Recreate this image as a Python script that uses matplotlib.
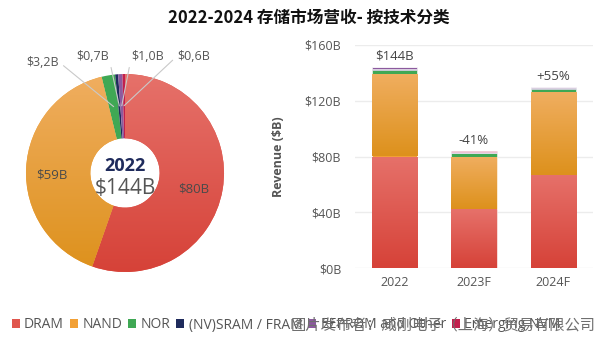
import numpy as np
import matplotlib.pyplot as plt
from matplotlib.patches import Patch
from matplotlib.colors import to_rgb

plt.rcParams['font.family'] = ['Open Sans', 'Noto Sans CJK SC', 'DejaVu Sans']

# 数据
techs = ['DRAM', 'NAND', 'NOR', '(NV)SRAM / FRAM', 'EEPROM and Other', 'Emerging NVM']
colors = ['#e0564d', '#f2a035', '#3fa854', '#1f2b5c', '#8c5a9e', '#c2204d']
grad_top = {'DRAM': '#e6716a', 'NAND': '#f0ae60'}
grad_bot = {'DRAM': '#d64238', 'NAND': '#dd911c'}

pie_values = [80, 59, 3.2, 0.7, 1.0, 0.6]
pie_labels = ['$80B', '$59B', '$3,2B', '$0,7B', '$1,0B', '$0,6B']

years = ['2022', '2023F', '2024F']
rev = {
    'DRAM': [80, 42, 67],
    'NAND': [59, 38, 59],
    'NOR': [3.2, 2.4, 2.6],
    '(NV)SRAM / FRAM': [0.7, 0.4, 0.4],
    'EEPROM and Other': [1.0, 0.7, 0.7],
    'Emerging NVM': [0.6, 0.4, 0.4],
}
bar_notes = ['$144B', '-41%', '+55%']


def gradient(top, bot, n=256):
    t = np.linspace(0, 1, n)[:, None, None]
    return (1 - t) * np.array(to_rgb(top)) + t * np.array(to_rgb(bot))


fig = plt.figure(figsize=(6, 3.39), dpi=100)
W, H = 600, 339

fig.text(0.515, 1 - 18 / H, '2022-2024 存储市场营收- 按技术分类', ha='center', va='center',
         fontsize=12, fontweight='bold', color='#111', family=['Noto Sans CJK SC'])

# ---- 环形图 ----
ax = fig.add_axes([26 / W, (H - 272) / H, 198 / W, 198 / H])
wedges, _ = ax.pie(pie_values, colors=colors, startangle=90, counterclock=False, radius=1,
                   wedgeprops=dict(width=0.65, edgecolor='none'))
for w, name in zip(wedges[:2], techs[:2]):
    im = ax.imshow(gradient(grad_top[name], grad_bot[name]), extent=(-1, 1, -1, 1),
                   aspect='auto', zorder=w.get_zorder() + 0.1)
    im.set_clip_path(w)
ax.set_xlim(-1, 1)
ax.set_ylim(-1, 1)

ax.text(0, 0.07, '2022', ha='center', va='center', fontsize=13, fontweight='bold', color='#1f2b5c', zorder=5)
ax.text(0, -0.16, '$144B', ha='center', va='center', fontsize=15, color='#555', zorder=5)
ax.text(0.69, -0.16, pie_labels[0], ha='center', va='center', fontsize=9.5, color='#4a4a4a', zorder=5)
ax.text(-0.74, -0.02, pie_labels[1], ha='center', va='center', fontsize=9.5, color='#4a4a4a', zorder=5)

# 小扇区的外部标签
tot = sum(pie_values)
cum = np.cumsum(pie_values)
mids = 90 - 360 * (cum - np.array(pie_values) / 2) / tot
lab_pos = [(-0.83, 1.12), (-0.33, 1.18), (0.23, 1.18), (0.69, 1.18)]
relpos = [(1, 0.5), (1, 0.5), (0, 0.5), (0, 0.5)]
for i, (pos, rp) in enumerate(zip(lab_pos, relpos), start=2):
    a = np.deg2rad(mids[i])
    ax.annotate(pie_labels[i], xy=(0.68 * np.cos(a), 0.68 * np.sin(a)), xytext=pos,
                ha='center', va='center', fontsize=9, color='#555', zorder=6,
                arrowprops=dict(arrowstyle='-', color='#c9c9c9', lw=0.8, relpos=rp,
                                shrinkA=1.5, shrinkB=0))

# ---- 堆叠柱状图 ----
ax2 = fig.add_axes([355 / W, (H - 268) / H, 238 / W, 223 / H])
x = np.arange(len(years))
bw = 0.57
bottom = np.zeros(len(years))
for name, c in zip(techs, colors):
    vals = np.array(rev[name])
    bars = ax2.bar(x, vals, bw, bottom=bottom, color=c, edgecolor='white', linewidth=0.4, zorder=3)
    if name in grad_top:
        for b in bars:
            x0, y0 = b.get_x(), b.get_y()
            im = ax2.imshow(gradient(grad_top[name], grad_bot[name]),
                            extent=(x0, x0 + b.get_width(), y0, y0 + b.get_height()),
                            aspect='auto', zorder=3.1)
            im.set_clip_path(b)
    bottom += vals

for xi, tot_i, note in zip(x, bottom, bar_notes):
    ax2.annotate(note, (xi, tot_i), xytext=(0, 3), textcoords='offset points',
                 ha='center', va='bottom', fontsize=9.5, color='#444')

ax2.set_xlim(-0.5, 2.5)
ax2.set_ylim(0, 160)
ax2.set_aspect('auto')
ax2.set_yticks([0, 40, 80, 120, 160])
ax2.set_yticklabels(['$0B', '$40B', '$80B', '$120B', '$160B'])
ax2.set_xticks(x)
ax2.set_xticklabels(years)
ax2.tick_params(length=0, labelsize=9, labelcolor='#555')
ax2.tick_params(axis='y', pad=10)
ax2.tick_params(axis='x', pad=6)
ax2.grid(axis='y', color='#ececec', lw=1, zorder=0)
for s in ax2.spines.values():
    s.set_visible(False)
ax2.set_ylabel('Revenue ($B)', fontsize=9, fontweight='bold', color='#555')
ax2.yaxis.set_label_coords(-0.294, 0.5)

# ---- 图例 ----
handles = [Patch(facecolor=c, edgecolor='none') for c in colors]
fig.legend(handles, techs, loc='center left', bbox_to_anchor=(0.01, 1 - 325 / H), ncol=6,
           frameon=False, fontsize=10, labelcolor='#555', handlelength=0.6, handleheight=0.6,
           handletextpad=0.3, columnspacing=0.42, borderaxespad=0)

fig.text(0.993, 1 - 325 / H, '图片发布者：威刚电子（上海）贸易有限公司', ha='right', va='center',
         fontsize=11, color='#6f6f6f', family=['Noto Sans CJK SC'], zorder=10)

fig.savefig('out.png', dpi=100)
